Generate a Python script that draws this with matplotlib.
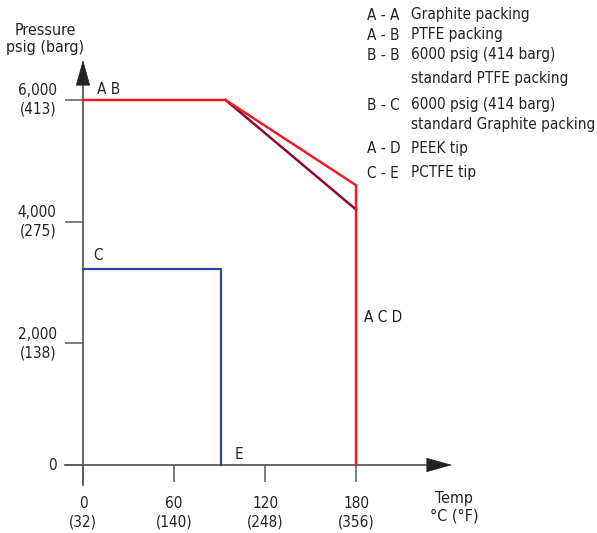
import matplotlib
matplotlib.use("Agg")
import matplotlib.pyplot as plt

plt.rcParams['font.family'] = ['DejaVu Sans']
plt.rcParams['font.stretch'] = 'condensed'

# data (temp in degC, pressure in psig)
xticks = [0, 60, 120, 180]
xtick_labels = ['0\n(32)', '60\n(140)', '120\n(248)', '180\n(356)']
yticks = [0, 2000, 4000, 6000]
ytick_labels = ['0', '2,000\n(138)', '4,000\n(275)', '6,000\n(413)']

ptfe_temp = [0, 94, 180, 180]
ptfe_press = [6000, 6000, 4600, 0]
graphite_temp = [94, 180]
graphite_press = [6000, 4200]
pctfe_temp = [0, 91, 91]
pctfe_press = [3230, 3230, 0]

legend_keys = ['A - A', 'A - B', 'B - B', '', 'B - C', '', 'A - D', 'C - E']
legend_desc = ['Graphite packing', 'PTFE packing', '6000 psig (414 barg)',
               'standard PTFE packing', '6000 psig (414 barg)',
               'standard Graphite packing', 'PEEK tip', 'PCTFE tip']
legend_rows = [15, 35, 55, 78, 105, 125, 148, 173]

W, H = 597, 533
fig = plt.figure(figsize=(W / 100, H / 100), dpi=100)
ax = fig.add_axes([0, 0, 1, 1])

# pixel mapping: x=0 -> 83px, x=180 -> 356px ; y=0 -> 465px, y=6000 -> 100px (from top)
sx = (356 - 83) / 180
sy = (465 - 100) / 6000
ax.set_xlim(-83 / sx, (W - 83) / sx)
ax.set_ylim((465 - H) / sy, 465 / sy)

axis_col = '#5a5a5a'
for s in ax.spines.values():
    s.set_visible(False)
ax.spines['left'].set_position(('data', 0))
ax.spines['bottom'].set_position(('data', 0))

ax.set_xticks(xticks)
ax.set_xticklabels(xtick_labels, fontsize=11, linespacing=1.3)
ax.set_yticks(yticks)
ax.set_yticklabels(ytick_labels, fontsize=11, linespacing=1.3, va='center')
ax.tick_params(axis='x', direction='out', length=12, width=1.1, color=axis_col, pad=10, labelcolor='#222222')
ax.tick_params(axis='y', direction='out', length=13, width=1.1, color=axis_col, pad=6, labelcolor='#222222')

# axis lines with arrow heads
x_lo, x_tip = (65 - 83) / sx, (452 - 83) / sx
y_lo, y_tip = (465 - 485) / sy, (465 - 60) / sy
ax.plot([x_lo, x_tip - 10], [0, 0], color=axis_col, lw=1.3, zorder=1)
ax.plot([0, 0], [y_lo, y_tip - 300], color=axis_col, lw=1.3, zorder=1)
head = '-|>,head_length=0.86,head_width=0.24'
ax.annotate('', xy=(x_tip, 0), xytext=(x_tip - 10, 0),
            arrowprops=dict(arrowstyle=head, color='#222222', lw=0.5,
                            mutation_scale=20, shrinkA=0, shrinkB=0))
ax.annotate('', xy=(0, y_tip), xytext=(0, y_tip - 250),
            arrowprops=dict(arrowstyle=head, color='#222222', lw=0.5,
                            mutation_scale=20, shrinkA=0, shrinkB=0))

# curves
ax.plot(pctfe_temp, pctfe_press, color='#2b44a0', lw=1.6, zorder=3)
ax.plot(graphite_temp, graphite_press, color='#8c0a2e', lw=1.8, zorder=3)
ax.plot(ptfe_temp, ptfe_press, color='#ee1c25', lw=1.8, zorder=3, solid_joinstyle='miter')

lab = dict(fontsize=11, color='#222222')
ax.text(9.2, 6170, 'A B', va='center', ha='left', **lab)
ax.text(6.5, 3450, 'C', va='center', ha='left', **lab)
ax.text(100, 170, 'E', va='center', ha='left', **lab)
ax.text(185, 2420, 'A C D', va='center', ha='left', **lab)

# axis titles
fig.text(45 / W, 1 - 39 / H, 'Pressure\npsig (barg)', ha='center', va='center',
         fontsize=11.5, linespacing=1.2, color='#222222')
fig.text(454 / W, 1 - 507 / H, 'Temp\n°C (°F)', ha='center', va='center',
         fontsize=11.5, linespacing=1.2, color='#222222')

# key text
for key, desc, row in zip(legend_keys, legend_desc, legend_rows):
    if key:
        fig.text(367 / W, 1 - row / H, key, ha='left', va='center', fontsize=11, color='#222222')
    fig.text(411 / W, 1 - row / H, desc, ha='left', va='center', fontsize=11, color='#222222')

fig.savefig('out.png', dpi=100)
